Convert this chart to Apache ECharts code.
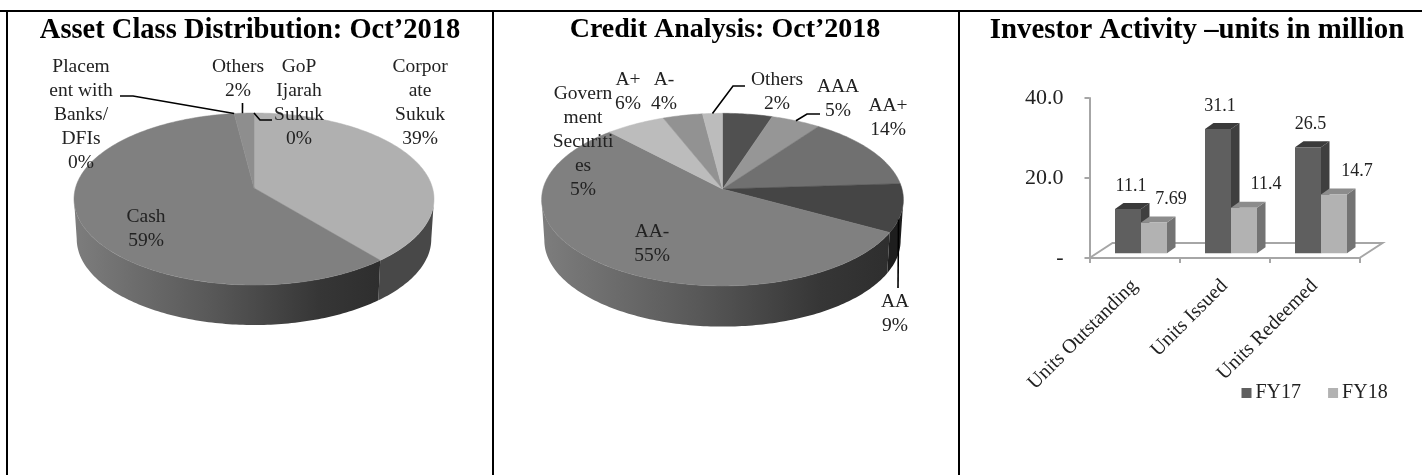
<!DOCTYPE html>
<html>
<head>
<meta charset="utf-8">
<title>Fund snapshot: Oct'2018</title>
<style>html,body{margin:0;padding:0;background:#fff}#main{width:1422px;height:475px}</style>
<script src="https://cdn.jsdelivr.net/npm/echarts@6/dist/echarts.min.js"></script>
</head>
<body>
<div id="main"></div>
<script>
// Panel one: asset classes, clockwise from twelve o'clock
const assetNames = ['GoP\nIjarah\nSukuk', 'Corpor\nate\nSukuk', 'Cash', 'Placem\nent with\nBanks/\nDFIs', 'Others'];
const assetShares = [0, 39, 59, 0, 2];

// Panel two: credit ratings, clockwise from twelve o'clock
const creditNames = ['Govern\nment\nSecuriti\nes', 'AAA', 'AA+', 'AA', 'AA-', 'A+', 'A-', 'Others'];
const creditShares = [5, 5, 14, 9, 55, 6, 4, 2];

// Panel three: investor activity, units in million
const activityCategories = ['Units Outstanding', 'Units Issued', 'Units Redeemed'];
const fy17Units = [11.1, 31.1, 26.5];
const fy18Units = [7.69, 11.4, 14.7];
const unitTicks = { min: 0, max: 40, step: 20 };

const SERIF = '"Liberation Serif", serif';
const INK = '#222222';

// Tilted-disc geometry for each pie; k sets how strongly the far edge recedes
const assetDisc = { cx: 254, apexY: 188, rx: 178.5, ry: 84.6, k: 0.128, drop: 40 };
const creditDisc = { cx: 722.5, apexY: 189, rx: 179.5, ry: 85, k: 0.123, drop: 40.7 };

// Slice fills, rim fills, label centres and leader routes
const wallFade = () => new echarts.graphic.LinearGradient(0, 0, 1, 0, [
  { offset: 0, color: '#7d7d7d' }, { offset: 0.45, color: '#585858' },
  { offset: 0.8, color: '#363636' }, { offset: 1, color: '#2e2e2e' }
]);
const assetStyle = {
  top: ['#8e8e8e', '#b0b0b0', '#808080', '#808080', '#8e8e8e'],
  wall: ['#444', '#484848', wallFade, '#444', '#444'],
  spots: [[299, 103], [420, 103], [146, 229], [81, 115], [238, 79]],
  leaders: [
    { slice: 0, along: 0.5, route: [[260, 120], [272, 120]] },
    { slice: 3, along: 0.5, route: [[133, 96], [120, 96]] },
    { slice: 4, along: 0.42, route: [[242.5, 103]] }
  ]
};
const creditStyle = {
  top: ['#505050', '#969696', '#707070', '#454545', '#808080', '#bcbcbc', '#929292', '#bcbcbc'],
  wall: ['#333', '#444', '#3c3c3c', '#1e1e1e', wallFade, '#555', '#555', '#555'],
  spots: [[583, 142], [838, 98.5], [888, 117.5], [895, 314], [652, 244], [628, 92], [664, 92], [777, 92]],
  leaders: [
    { slice: 7, along: 0.5, route: [[733, 86], [745, 86]] },
    { slice: 1, along: 0.5, route: [[807, 114], [820, 114]] },
    { slice: 3, along: 0.73, route: [[898, 288]] }
  ]
};

function rimPoint(disc, deg, lower) {
  const a = deg * Math.PI / 180;
  const w = 1 + disc.k * Math.cos(a);
  const sx = Math.sin(a) / w, sy = Math.cos(a) / w;
  return lower
    ? [disc.cx + 0.985 * disc.rx * sx, disc.apexY + disc.drop - disc.ry * sy]
    : [disc.cx + disc.rx * sx, disc.apexY - disc.ry * sy];
}

function arcPoints(disc, from, to, lower) {
  const pts = [];
  const n = Math.max(1, Math.ceil(Math.abs(to - from)));
  for (let i = 0; i <= n; i++) pts.push(rimPoint(disc, from + (to - from) * i / n, lower));
  return pts;
}

function pieSeries(names, shares, disc, look) {
  const total = shares.reduce((a, b) => a + b, 0);
  const startDeg = i => shares.slice(0, i).reduce((a, b) => a + b, 0) / total * 360;
  const silhouette = Math.acos(-disc.k) * 180 / Math.PI;
  return {
    type: 'custom',
    coordinateSystem: 'none',
    silent: true,
    data: shares,
    renderItem(params, api) {
      const i = params.dataIndex;
      const value = api.value(0);
      const from = startDeg(i), to = from + value / total * 360;
      const children = [];
      // Visible part of the rim wall, below the disc
      const wFrom = Math.max(from, silhouette), wTo = Math.min(to, 360 - silhouette);
      if (wTo > wFrom) {
        const fill = look.wall[i];
        const upper = arcPoints(disc, wFrom, wTo, false);
        const lowerArc = arcPoints(disc, wTo, wFrom, true);
        children.push({
          type: 'polygon', z2: 1,
          shape: { points: upper.concat(lowerArc) },
          style: { fill: typeof fill === 'function' ? fill() : fill }
        });
      }
      // Top face of the slice
      if (to > from) {
        const pts = [[disc.cx, disc.apexY]].concat(arcPoints(disc, from, to, false));
        children.push({
          type: 'polygon', z2: 2,
          shape: { points: pts },
          style: { fill: look.top[i], stroke: look.top[i], lineWidth: 0.5 }
        });
      }
      // Leader line from the rim to the label
      look.leaders.filter(l => l.slice === i).forEach(l => {
        const anchor = rimPoint(disc, from + (to - from) * l.along, false);
        children.push({
          type: 'polyline', z2: 3,
          shape: { points: [anchor].concat(l.route) },
          style: { fill: null, stroke: '#000', lineWidth: 1.6 }
        });
      });
      // Category name and share
      children.push({
        type: 'text', z2: 4,
        style: {
          text: names[i] + '\n' + value + '%',
          x: look.spots[i][0], y: look.spots[i][1],
          fill: INK, font: '19.5px ' + SERIF, lineHeight: 24,
          align: 'center', verticalAlign: 'middle'
        }
      });
      return { type: 'group', children };
    }
  };
}

// Depth faces of the 3-D columns, placed next to the flat bar fronts
const BAR_W = 26, DEPTH_X = 8.5, DEPTH_Y = 6;
function columnDepth(values, leftOfCentre, sideColor, topColor) {
  return {
    type: 'custom',
    xAxisIndex: 1, yAxisIndex: 1,
    silent: true,
    data: values.map((v, i) => [i, v]),
    encode: { x: 0, y: 1 },
    renderItem(params, api) {
      const topPt = api.coord([api.value(0), api.value(1)]);
      const basePt = api.coord([api.value(0), 0]);
      const xL = leftOfCentre ? topPt[0] - BAR_W : topPt[0];
      const xR = xL + BAR_W;
      return {
        type: 'group',
        children: [
          { type: 'polygon', shape: { points: [[xR, topPt[1]], [xR + DEPTH_X, topPt[1] - DEPTH_Y], [xR + DEPTH_X, basePt[1] - DEPTH_Y], [xR, basePt[1]]] }, style: { fill: sideColor } },
          { type: 'polygon', shape: { points: [[xL, topPt[1]], [xL + DEPTH_X, topPt[1] - DEPTH_Y], [xR + DEPTH_X, topPt[1] - DEPTH_Y], [xR, topPt[1]]] }, style: { fill: topColor } }
        ]
      };
    }
  };
}

function columnFront(name, values, color, nudges) {
  return {
    type: 'bar', name,
    xAxisIndex: 1, yAxisIndex: 1,
    barWidth: BAR_W, barGap: 0,
    itemStyle: { color },
    data: values.map((v, i) => ({
      value: v,
      label: { offset: [nudges[i], -9] }
    })),
    label: { show: true, position: 'top', color: INK, fontFamily: SERIF, fontSize: 18 }
  };
}

// Floor of the column chart, hung off the category axis
const floorSeries = {
  type: 'custom',
  xAxisIndex: 0, yAxisIndex: 0,
  silent: true,
  data: [[0, 0]],
  encode: { x: 0, y: 1 },
  renderItem(params, api) {
    const origin = api.coord([0, 0]);
    const band = api.size([1, 0])[0];
    const left = origin[0] - band / 2, right = left + band * activityCategories.length, y = origin[1];
    return {
      type: 'polyline',
      shape: { points: [[left, y], [left + 23, y - 15], [right + 23, y - 15], [right, y]] },
      style: { fill: null, stroke: '#a6a6a6', lineWidth: 2 }
    };
  }
};

function heading(text, left, size) {
  return {
    text, left, top: 11, textAlign: 'center',
    textStyle: { fontFamily: SERIF, fontWeight: 'bold', fontSize: size, color: '#000' }
  };
}

function rule(x1, y1, x2, y2) {
  return { type: 'line', silent: true, shape: { x1, y1, x2, y2 }, style: { stroke: '#000', lineWidth: 2 } };
}

const chart = echarts.init(document.getElementById('main'), null, { width: 1422, height: 475, renderer: 'canvas' });
chart.setOption({
  animation: false,
  backgroundColor: '#fff',
  title: [
    heading('Asset Class Distribution: Oct\u20192018', 245, 28.5),
    heading('Credit Analysis: Oct\u20192018', 720, 28),
    heading('Investor Activity \u2013units in million', 1192, 28.8)
  ],
  graphic: [
    rule(0, 11, 1422, 11),
    rule(7, 11, 7, 475),
    rule(493, 11, 493, 475),
    rule(959, 11, 959, 475)
  ],
  legend: {
    data: ['FY17', 'FY18'],
    left: 1236.5, top: 378,
    icon: 'rect', itemWidth: 10, itemHeight: 10, itemGap: 27,
    textStyle: { fontFamily: SERIF, fontSize: 20, color: INK, padding: [0, 0, 0, -1] }
  },
  grid: [
    { left: 1089.5, top: 98, width: 270, height: 160 },
    { left: 1096, top: 93.3, width: 270, height: 160 }
  ],
  xAxis: [
    {
      type: 'category', gridIndex: 0, data: activityCategories,
      axisLine: { lineStyle: { color: '#a6a6a6', width: 2 } },
      axisTick: { show: true, length: 5, lineStyle: { color: '#a6a6a6', width: 2 } },
      axisLabel: { rotate: 45, margin: 25, color: INK, fontFamily: SERIF, fontSize: 20, interval: 0 }
    },
    { type: 'category', gridIndex: 1, data: activityCategories, show: false }
  ],
  yAxis: [
    {
      type: 'value', gridIndex: 0, min: unitTicks.min, max: unitTicks.max, interval: unitTicks.step,
      splitLine: { show: false },
      axisLine: { show: true, lineStyle: { color: '#a6a6a6', width: 2 } },
      axisTick: { show: true, length: 5, lineStyle: { color: '#a6a6a6', width: 2 } },
      axisLabel: {
        margin: 26, color: INK, fontFamily: SERIF, fontSize: 22, padding: [3, 0, 0, 0],
        formatter: v => (v === 0 ? '-' : v.toFixed(1))
      }
    },
    { type: 'value', gridIndex: 1, min: unitTicks.min, max: unitTicks.max, show: false, splitLine: { show: false } }
  ],
  series: [
    pieSeries(assetNames, assetShares, assetDisc, assetStyle),
    pieSeries(creditNames, creditShares, creditDisc, creditStyle),
    floorSeries,
    columnDepth(fy17Units, true, '#3f3f3f', '#3a3a3a'),
    columnFront('FY17', fy17Units, '#5f5f5f', [3, 2, 2.5]),
    columnDepth(fy18Units, false, '#737373', '#8c8c8c'),
    columnFront('FY18', fy18Units, '#b2b2b2', [17, 22, 23])
  ]
});
</script>
</body>
</html>
